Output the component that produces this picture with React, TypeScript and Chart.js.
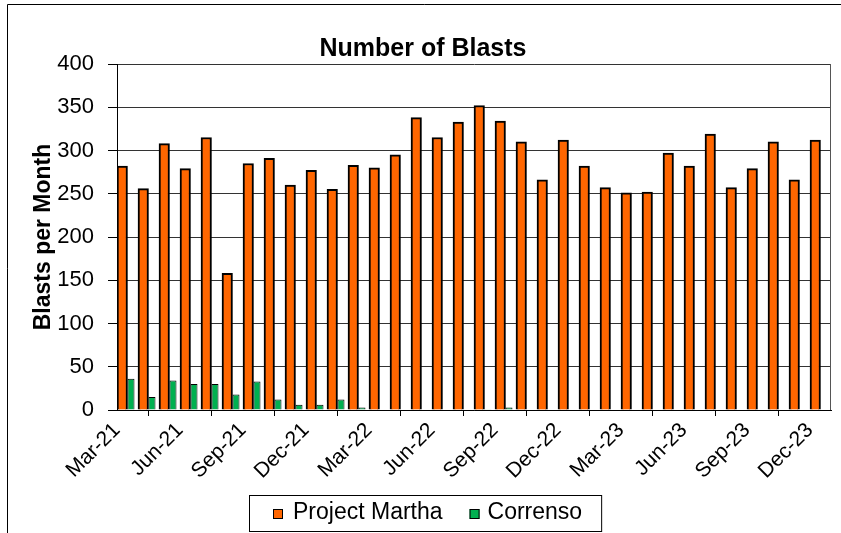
import React, { useEffect, useRef } from 'react';
import { Chart, registerables } from 'chart.js';

Chart.register(...registerables);

const months = [
  'Mar-21', 'Apr-21', 'May-21', 'Jun-21', 'Jul-21', 'Aug-21', 'Sep-21', 'Oct-21', 'Nov-21', 'Dec-21',
  'Jan-22', 'Feb-22', 'Mar-22', 'Apr-22', 'May-22', 'Jun-22', 'Jul-22', 'Aug-22', 'Sep-22', 'Oct-22', 'Nov-22', 'Dec-22',
  'Jan-23', 'Feb-23', 'Mar-23', 'Apr-23', 'May-23', 'Jun-23', 'Jul-23', 'Aug-23', 'Sep-23', 'Oct-23', 'Nov-23', 'Dec-23',
];

const projectMartha = [
  282, 256, 308, 279, 315, 158, 285, 291, 260, 277,
  255, 283, 280, 295, 338, 315, 333, 352, 334, 310, 266, 312,
  282, 257, 251, 252, 297, 282, 319, 257, 279, 310, 266, 312,
];

const correnso = [
  36, 15, 34, 30, 30, 18, 33, 12, 6, 6,
  12, 3, 0, 0, 0, 0, 0, 1, 3, 0, 0, 0,
  0, 0, 0, 0, 0, 0, 0, 0, 0, 0, 0, 0,
];

const tickEvery = 3;
const yMax = 400;
const yStep = 50;

const chartTitle = 'Number of Blasts';
const yTitle = 'Blasts per Month';

const FONT = '"Liberation Sans", Arial, Helvetica, sans-serif';

const decorPlugin = {
  id: 'decor',
  afterDraw(chart: any) {
    const ctx = chart.ctx as CanvasRenderingContext2D;
    const a = chart.chartArea;
    ctx.save();
    // right plot border
    ctx.strokeStyle = '#555';
    ctx.lineWidth = 1;
    ctx.beginPath();
    ctx.moveTo(a.right - 0.5, a.top);
    ctx.lineTo(a.right - 0.5, a.bottom);
    ctx.stroke();
    // outer frame (cropped)
    ctx.strokeStyle = '#000';
    ctx.beginPath();
    ctx.moveTo(7.5, chart.height);
    ctx.lineTo(7.5, 4.5);
    ctx.lineTo(chart.width, 4.5);
    ctx.stroke();
    // title
    ctx.fillStyle = '#000';
    ctx.font = `bold 25px ${FONT}`;
    ctx.textAlign = 'center';
    ctx.textBaseline = 'alphabetic';
    ctx.fillText(chartTitle, 423, 56);
    // y title
    ctx.save();
    ctx.translate(50, (a.top + a.bottom) / 2);
    ctx.rotate(-Math.PI / 2);
    ctx.font = `bold 23px ${FONT}`;
    ctx.fillText(yTitle, 0, 0);
    ctx.restore();
    // legend
    ctx.font = `23px ${FONT}`;
    ctx.textAlign = 'left';
    const boxLeft = 250;
    const boxTop = 496;
    const boxBottom = 532;
    let x = boxLeft + 23;
    const ds = chart.data.datasets;
    ds.forEach((d: any, i: number) => {
      ctx.fillStyle = d.backgroundColor;
      ctx.fillRect(x, 509, 10, 10);
      ctx.strokeStyle = '#000';
      ctx.lineWidth = 1;
      ctx.strokeRect(x + 0.5, 509.5, 9, 9);
      ctx.fillStyle = '#000';
      const tx = x + (i === 0 ? 20 : 18);
      ctx.fillText(d.label, tx, 519);
      x = tx + ctx.measureText(d.label).width + (i === 0 ? 27 : 20);
    });
    const boxRight = x;
    ctx.strokeStyle = '#000';
    ctx.lineWidth = 1;
    ctx.strokeRect(boxLeft - 0.5, boxTop - 0.5, boxRight - boxLeft, boxBottom - boxTop);
    ctx.restore();
  },
};

export default function App() {
  const ref = useRef<HTMLCanvasElement | null>(null);
  useEffect(() => {
    if (!ref.current) return;
    Chart.defaults.font.family = FONT;
    Chart.defaults.color = '#000';
    const chart = new Chart(ref.current, {
      type: 'bar',
      data: {
        datasets: [
          {
            label: 'Project Martha',
            data: projectMartha.map((y, i) => ({ x: i + 0.5, y })),
            backgroundColor: '#FF6600',
            borderColor: '#000',
            borderWidth: 2,
            categoryPercentage: 1,
            barPercentage: 1,
          },
          {
            label: 'Correnso',
            data: correnso.map((y, i) => ({ x: i + 0.5, y })),
            backgroundColor: '#00B050',
            borderColor: '#000',
            borderWidth: 1,
            categoryPercentage: 0.667,
            barPercentage: 1,
          },
        ],
      } as any,
      options: {
        responsive: false,
        devicePixelRatio: 1,
        animation: false,
        layout: { padding: { top: 64, right: 10, bottom: 43, left: 0 } },
        plugins: {
          legend: { display: false },
          title: { display: false },
          tooltip: { enabled: false },
        },
        scales: {
          x: {
            type: 'linear',
            min: 0,
            max: months.length,
            offset: false,
            afterBuildTicks: (s: any) => {
              s.ticks = months
                .map((_, i) => i)
                .filter((i) => i % tickEvery === 0)
                .map((v) => ({ value: v }));
            },
            afterFit: (s: any) => {
              s.height = 80;
            },
            ticks: {
              autoSkip: false,
              minRotation: 45,
              maxRotation: 45,
              font: { size: 21 },
              color: '#000',
              padding: 2,
              callback: (v: any) => months[v] ?? '',
            },
            grid: { drawOnChartArea: false, drawTicks: true, tickLength: 6, tickColor: '#000' },
            border: { color: '#000' },
          },
          y: {
            min: 0,
            max: yMax,
            afterFit: (s: any) => {
              s.width = 117;
            },
            ticks: { stepSize: yStep, font: { size: 22 }, color: '#000', padding: 14 },
            grid: { color: '#333', tickLength: 9, tickColor: '#000' },
            border: { color: '#000' },
          },
        },
      } as any,
      plugins: [decorPlugin],
    });
    return () => chart.destroy();
  }, []);
  return (
    <div style={{ position: 'fixed', left: 0, top: 0, width: 841, height: 533, background: '#fff' }}>
      <canvas ref={ref} width={841} height={533} style={{ display: 'block', width: 841, height: 533 }} />
    </div>
  );
}
